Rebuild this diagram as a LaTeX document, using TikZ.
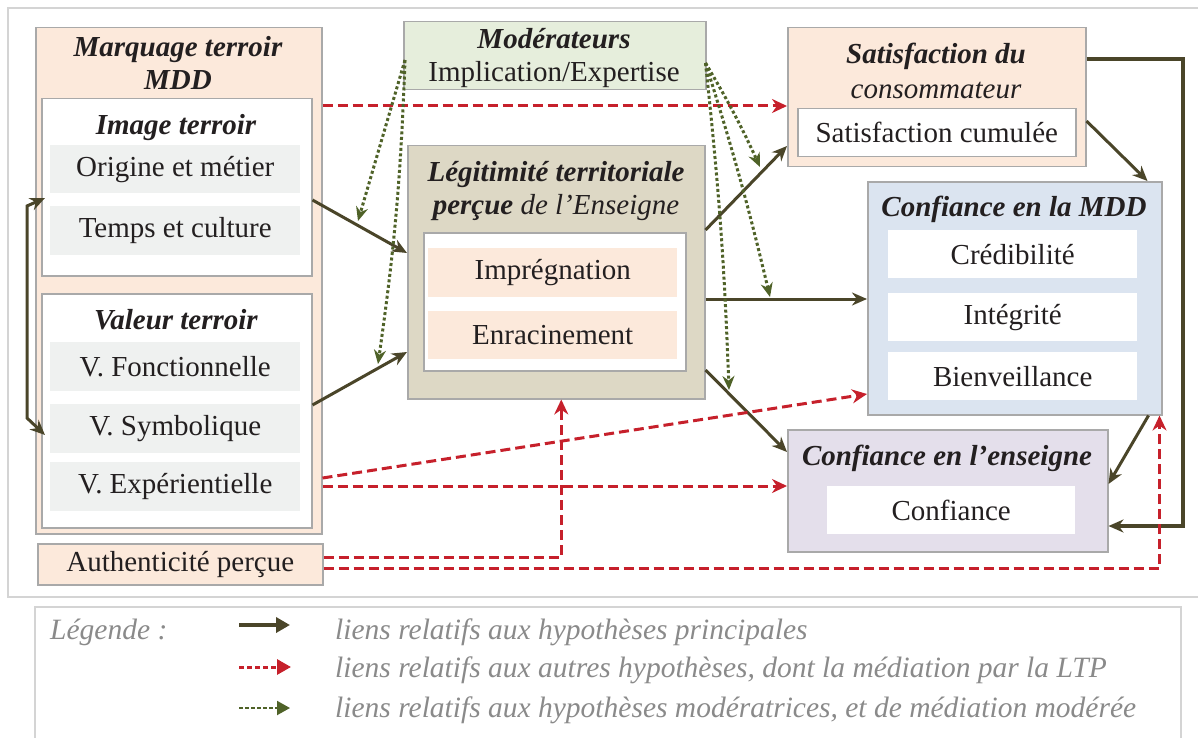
\documentclass[tikz,border=0pt]{standalone}
\usepackage{fontspec}
\setmainfont{Liberation Serif}
\usetikzlibrary{arrows.meta,calc}
\definecolor{peach}{HTML}{FCE9DB}
\definecolor{itemgray}{HTML}{EFF1F0}
\definecolor{modgreen}{HTML}{E6EEDC}
\definecolor{ltpfill}{HTML}{DDD8C5}
\definecolor{mddblue}{HTML}{DBE4F0}
\definecolor{lavender}{HTML}{E4DFEB}
\definecolor{boxborder}{HTML}{A9A9A9}
\definecolor{olive}{HTML}{4A4529}
\definecolor{redarrow}{HTML}{C6202B}
\definecolor{greenarrow}{HTML}{4F6228}
\definecolor{framegray}{HTML}{D4D4D4}
\definecolor{legtext}{HTML}{8A8A8A}
\definecolor{ink}{HTML}{231F20}
\newcommand{\mysz}{\fontsize{29}{33}\selectfont}
\newcommand{\legsz}{\fontsize{29.5}{33}\selectfont}
\tikzset{
  box/.style={draw=boxborder, line width=1.5pt, rectangle, inner sep=0pt, anchor=north west},
  itembox/.style={rectangle, inner sep=0pt, anchor=north west, font=\mysz, text=ink},
  titlelbl/.style={font=\mysz\bfseries\itshape, align=center, inner sep=0pt, text=ink},
  mainarrow/.style={draw=olive, line width=3pt, -{Stealth[length=15pt,width=13pt]}},
  redarrowstyle/.style={draw=redarrow, line width=3pt, dash pattern=on 10pt off 5pt, -{Stealth[length=15pt,width=14pt]}},
  dotarrow/.style={draw=greenarrow, line width=3pt, dash pattern=on 3pt off 2.5pt, -{Stealth[length=14pt,width=12pt]}},
  legtxt/.style={font=\legsz\itshape, text=legtext, anchor=west, inner sep=0pt}
}
\begin{document}
\begin{tikzpicture}[x=1pt,y=-1pt]
\useasboundingbox (0,0) rectangle (1198,738);
% outer frames
\draw[framegray, line width=1.5pt] (1200,8) -- (8,8) -- (8,597) -- (1200,597);
\draw[framegray, line width=1.2pt] (35,745) -- (35,607) -- (1181,607) -- (1181,745);

% left block
\node[box, fill=peach, minimum width=286pt, minimum height=506pt] (mq) at (35,27) {};
\node[titlelbl] at (178,63) {Marquage terroir\\MDD};
\node[box, fill=white, minimum width=270pt, minimum height=177pt] (imgT) at (41,98) {};
\node[titlelbl] at (176,128) {Image terroir};
\node[itembox, fill=itemgray, minimum width=250pt, minimum height=48pt] (origine) at (50,145) {Origine et métier};
\node[itembox, fill=itemgray, minimum width=250pt, minimum height=49pt] (temps) at (50,206) {Temps et culture};
\node[box, fill=white, minimum width=270pt, minimum height=234pt] (valT) at (41,293) {};
\node[titlelbl] at (176,320) {Valeur terroir};
\node[itembox, fill=itemgray, minimum width=250pt, minimum height=49pt] (fonct) at (50,342) {V. Fonctionnelle};
\node[itembox, fill=itemgray, minimum width=250pt, minimum height=49pt] (symb) at (50,404) {V. Symbolique};
\node[itembox, fill=itemgray, minimum width=250pt, minimum height=49pt] (exper) at (50,462) {V. Expérientielle};
\node[box, fill=peach, minimum width=285pt, minimum height=41pt, font=\mysz, text=ink] (auth) at (37,543) {Authenticité perçue};

% moderators
\node[box, fill=modgreen, minimum width=302pt, minimum height=68pt] (mod) at (403,21) {};
\node[font=\mysz, align=center, inner sep=0pt, text=ink] at (554,58) {\textbf{\textit{Modérateurs}}\\Implication/Expertise};

% LTP
\node[box, fill=ltpfill, minimum width=297pt, minimum height=253pt] (ltp) at (407,145) {};
\node[titlelbl] at (556,191) {Légitimité territoriale\\perçue \mdseries de l’Enseigne};
\node[box, fill=white, minimum width=262pt, minimum height=138pt] (ltpin) at (423,232) {};
\node[itembox, fill=peach, minimum width=249pt, minimum height=49pt] (impr) at (428,248) {Imprégnation};
\node[itembox, fill=peach, minimum width=249pt, minimum height=48pt] (enrac) at (428,311) {Enracinement};

% satisfaction
\node[box, fill=peach, minimum width=298pt, minimum height=139pt] (sat) at (787,27) {};
\node[titlelbl] at (936,71) {Satisfaction du\\[2pt] \mdseries consommateur};
\node[box, fill=white, minimum width=278pt, minimum height=48pt, font=\mysz, text=ink] (satin) at (797,108) {Satisfaction cumulée};

% confiance MDD
\node[box, fill=mddblue, minimum width=294pt, minimum height=233pt] (cmdd) at (867,181) {};
\node[titlelbl] at (1014,209) {Confiance en la MDD};
\node[itembox, fill=white, minimum width=249pt, minimum height=48pt] (cred) at (888,230) {Crédibilité};
\node[itembox, fill=white, minimum width=249pt, minimum height=48pt] (integ) at (888,293) {Intégrité};
\node[itembox, fill=white, minimum width=249pt, minimum height=48pt] (bienv) at (888,352) {Bienveillance};

% confiance enseigne
\node[box, fill=lavender, minimum width=320pt, minimum height=122pt] (cens) at (787,429) {};
\node[titlelbl] at (947,458) {Confiance en l’enseigne};
\node[itembox, fill=white, minimum width=248pt, minimum height=48pt] (confi) at (827,486) {Confiance};

% solid arrows
\draw[mainarrow] ($(imgT.north east)+(0,102)$) -- ($(ltp.north west)+(0,108)$);
\draw[mainarrow] ($(valT.north east)+(0,112)$) -- ($(ltp.north west)+(0,207)$);
\draw[mainarrow] ($(ltp.north east)+(0,85)$) -- ($(sat.north west)+(0,119)$);
\draw[mainarrow] ($(ltp.north east)+(0,154)$) -- ($(cmdd.north west)+(0,118)$);
\draw[mainarrow] ($(ltp.north east)+(0,225)$) -- ($(cens.north west)+(0,23)$);
\draw[mainarrow] ($(sat.north east)+(0,94)$) -- ($(cmdd.north east)+(-15,0)$);
\draw[mainarrow] ($(cmdd.south east)+(-14,0)$) -- ($(cens.north east)+(0,55)$);
\coordinate (rtop) at (1183,59);
\coordinate (rbot) at (1183,526);
\draw[mainarrow, line width=3.5pt] ($(sat.north east)+(0,32)$) -- (rtop) -- (rbot) -- ($(cens.north east)+(0,97)$);
\coordinate (lt) at (27,206);
\coordinate (lb) at (27,418);
\draw[mainarrow, {Stealth[length=15pt,width=13pt]}-{Stealth[length=15pt,width=13pt]}] ($(imgT.north west)+(4,100)$) -- (lt) -- (lb) -- ($(valT.north west)+(4,142)$);

% red dashed arrows
\draw[redarrowstyle] ($(mq.north east)+(0,79)$) -- ($(sat.north west)+(0,79)$);
\draw[redarrowstyle] ($(mq.north east)+(0,451)$) -- ($(cmdd.north west)+(0,213)$);
\draw[redarrowstyle] ($(mq.north east)+(0,459)$) -- ($(cens.north west)+(0,57)$);
\draw[redarrowstyle] ($(auth.north east)+(0,14)$) -| ($(ltp.south)+(5,0)$);
\draw[redarrowstyle] ($(auth.north east)+(0,25)$) -| ($(cmdd.south east)+(-3,0)$);

% green dotted arrows
\coordinate (mL) at ($(mod.north west)+(2,39)$);
\coordinate (mR) at ($(mod.north east)+(-1,42)$);
\coordinate (d1) at (358,221);
\coordinate (d2) at (378,364);
\coordinate (d3) at (760,167);
\coordinate (d4) at (770,297);
\coordinate (d5) at (729,390);
\draw[dotarrow] (mL) -- (d1);
\draw[dotarrow] (mL) to[bend left=3] (d2);
\draw[dotarrow] (mR) to[bend left=3] (d3);
\draw[dotarrow] (mR) to[bend left=2] (d4);
\draw[dotarrow] (mR) to[bend left=2] (d5);

% legend
\node[legtxt] (leg) at (50,632) {Légende :};
\coordinate (l1a) at (239,625); \coordinate (l1b) at (290,625);
\coordinate (l2a) at (239,667); \coordinate (l2b) at (291,667);
\coordinate (l3a) at (239,708); \coordinate (l3b) at (290,708);
\draw[draw=olive, line width=4pt, -{Triangle[length=14pt,width=15pt]}] (l1a) -- (l1b);
\draw[draw=redarrow, line width=3pt, dash pattern=on 5pt off 3pt, -{Triangle[length=14pt,width=15pt]}] (l2a) -- (l2b);
\draw[draw=greenarrow, line width=2pt, dash pattern=on 4pt off 2pt, -{Triangle[length=13pt,width=14pt]}] (l3a) -- (l3b);
\node[legtxt] at (335,632) {liens relatifs aux hypothèses principales};
\node[legtxt] at (335,670) {liens relatifs aux autres hypothèses, dont la médiation par la LTP};
\node[legtxt] at (335,710) {liens relatifs aux hypothèses modératrices, et de médiation modérée};
\end{tikzpicture}
\end{document}
